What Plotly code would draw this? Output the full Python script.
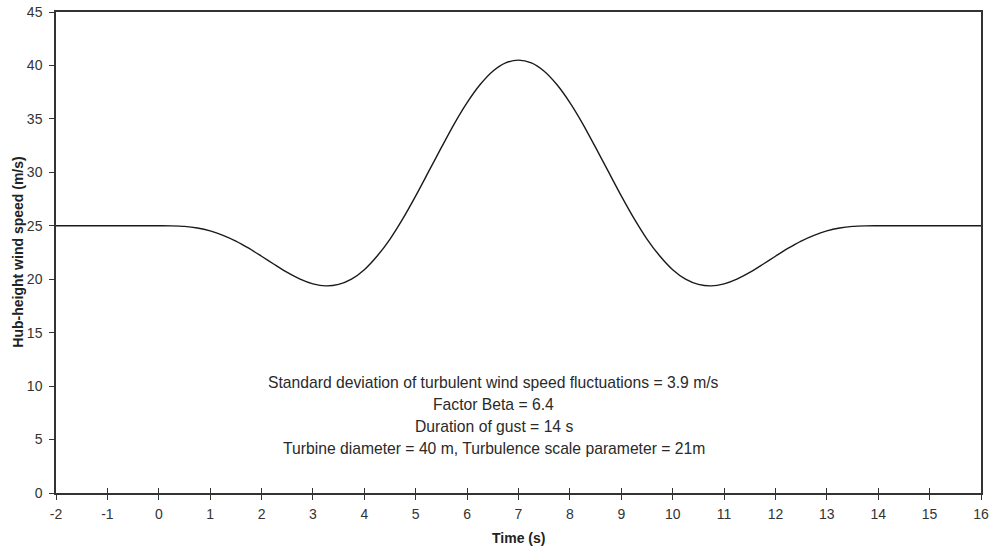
import plotly.graph_objects as go

time_s = [-2, -1, 0, 0.25, 0.5, 0.75, 1, 1.25, 1.5, 1.75, 2, 2.25, 2.5, 2.75, 3, 3.25, 3.5, 3.75,
          4, 4.25, 4.5, 4.75, 5, 5.25, 5.5, 5.75, 6, 6.25, 6.5, 6.75, 7,
          7.25, 7.5, 7.75, 8, 8.25, 8.5, 8.75, 9, 9.25, 9.5, 9.75, 10, 10.25, 10.5, 10.75,
          11, 11.25, 11.5, 11.75, 12, 12.25, 12.5, 12.75, 13, 13.25, 13.5, 13.75, 14, 15, 16]
wind_speed = [25, 25, 25, 24.99, 24.94, 24.79, 24.52, 24.11, 23.57, 22.90, 22.15, 21.38, 20.64,
              20.01, 19.57, 19.38, 19.52, 20.01, 20.89, 22.17, 23.76, 25.67, 27.80, 30.06, 32.33,
              34.54, 36.52, 38.19, 39.46, 40.24, 40.5,
              40.24, 39.46, 38.19, 36.52, 34.54, 32.33, 30.06, 27.80, 25.67, 23.76, 22.17, 20.89,
              20.01, 19.52, 19.38, 19.57, 20.01, 20.64, 21.38, 22.15, 22.90, 23.57, 24.11, 24.52,
              24.79, 24.94, 24.99, 25, 25, 25]

x_ticks = [-2, -1, 0, 1, 2, 3, 4, 5, 6, 7, 8, 9, 10, 11, 12, 13, 14, 15, 16]
x_tick_text = ["-2", "-1", "0", "1", "2", "3", "4", "5", "6", "7", "8", "9", "10", "11", "12",
               "13", "14", "15", "16"]
y_ticks = [0, 5, 10, 15, 20, 25, 30, 35, 40, 45]

notes = [
    "Standard deviation of turbulent wind speed fluctuations = 3.9 m/s",
    "Factor Beta = 6.4",
    "Duration of gust = 14 s",
    "Turbine diameter = 40 m, Turbulence scale parameter = 21m",
]
note_y = [10.35, 8.3, 6.25, 4.2]

FONT = "Liberation Sans, Arial, sans-serif"
fig = go.Figure()
fig.add_trace(go.Scatter(x=time_s, y=wind_speed, mode="lines",
                         line=dict(color="#1a1a1a", width=1.4, shape="spline", smoothing=0.8),
                         showlegend=False, hoverinfo="skip"))
fig.add_trace(go.Scatter(x=[None], y=[None], xaxis="x2", showlegend=False))

for txt, yy in zip(notes, note_y):
    fig.add_annotation(x=6.52, y=yy, xref="x", yref="y", text=txt, showarrow=False,
                       font=dict(family=FONT, size=15.7, color="#2a2a2a"),
                       xanchor="center", yanchor="middle")

fig.add_annotation(x=-0.042, y=0.5, xref="paper", yref="paper", textangle=-90,
                   text="<b>Hub-height wind speed (m/s)</b>", showarrow=False,
                   font=dict(family=FONT, size=14, color="#222"),
                   xanchor="center", yanchor="middle")
fig.add_annotation(x=0.5, y=-0.094, xref="paper", yref="paper",
                   text="<b>Time (s)</b>", showarrow=False,
                   font=dict(family=FONT, size=14, color="#222"),
                   xanchor="center", yanchor="middle")

fig.update_layout(
    width=993, height=550,
    margin=dict(l=56, r=12, t=12, b=57, autoexpand=False),
    paper_bgcolor="white", plot_bgcolor="white",
    font=dict(family=FONT, color="#333"),
    xaxis=dict(range=[-2, 16], tickmode="array", tickvals=x_ticks, ticktext=x_tick_text,
               automargin=False, ticklabelstandoff=2,
               showgrid=False, zeroline=False, showline=True, linecolor="#333", linewidth=1.5,
               mirror=True, ticks="outside", ticklen=5, tickcolor="#333", tickwidth=1,
               tickfont=dict(family=FONT, size=14, color="#333")),
    xaxis2=dict(range=[-2, 16], tickmode="array", tickvals=x_ticks, overlaying="x",
                anchor="y", side="bottom", showgrid=False, zeroline=False, showline=False,
                automargin=False,
                ticks="inside", ticklen=5, tickcolor="#333", tickwidth=1, showticklabels=False),
    yaxis=dict(range=[0, 45], tickmode="array", tickvals=y_ticks, automargin=False,
               ticklabelstandoff=4,
               showgrid=False, zeroline=False, showline=True, linecolor="#333", linewidth=1.5,
               mirror=True, ticks="outside", ticklen=5, tickcolor="#333", tickwidth=1,
               tickfont=dict(family=FONT, size=14, color="#333")),
)

fig.write_html("out.html", config={"displayModeBar": False},
               post_script="document.body.style.margin='0';document.body.style.overflow='hidden';")
